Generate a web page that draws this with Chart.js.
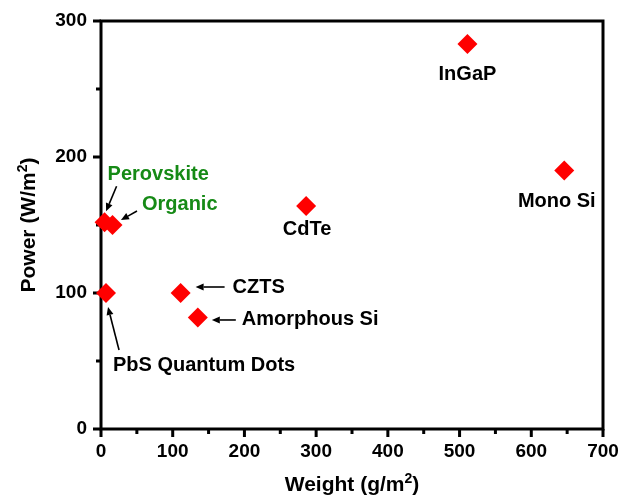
<!DOCTYPE html>
<html>
<head>
<meta charset="utf-8">
<script src="https://cdn.jsdelivr.net/npm/chart.js@4/dist/chart.umd.min.js"></script>
<style>
  html, body { margin: 0; padding: 0; background: #fff; }
  #wrap { width: 624px; height: 498px; }
</style>
</head>
<body>
<div id="wrap"><canvas id="chart" width="624" height="498"></canvas></div>
<script>
// values
const names = ['Perovskite', 'Organic', 'PbS Quantum Dots', 'CZTS', 'Amorphous Si', 'CdTe', 'InGaP', 'Mono Si'];
const weights = [5, 16, 7, 111, 135, 286, 511, 646];   // g/m2
const powers = [152, 150, 100, 100, 82, 164, 283, 190]; // W/m2
const xMajor = [0, 100, 200, 300, 400, 500, 600, 700];
const yMajor = [0, 100, 200, 300];
const xTitle = ['Weight (g/m', '2', ')'];
const yTitle = ['Power (W/m', '2', ')'];

const FONT = '"Liberation Sans", Arial, Helvetica, sans-serif';
const GREEN = '#168a16';

// label placement, in pixels relative to the marker
const notes = {
    'Perovskite':       { dx: 3,    dy: -48, align: 'left',   color: GREEN, arrow: [12, -36, 1.5, -11] },
    'Organic':          { dx: 29.5, dy: -21, align: 'left',   color: GREEN, arrow: [24.5, -14, 8.5, -5] },
    'PbS Quantum Dots': { dx: 7,    dy: 72,  align: 'left',   arrow: [13, 57, 2, 14] },
    'CZTS':             { dx: 52,   dy: -6,  align: 'left',   arrow: [44, -6, 15, -6] },
    'Amorphous Si':     { dx: 44,   dy: 2.5, align: 'left',   arrow: [38, 2.5, 14, 2.5] },
    'CdTe':             { dx: 1,    dy: 24,  align: 'center' },
    'InGaP':            { dx: 0,    dy: 30,  align: 'center' },
    'Mono Si':          { dx: -7.5, dy: 31,  align: 'center' }
};

function drawArrow(ctx, x1, y1, x2, y2) {
    const ang = Math.atan2(y2 - y1, x2 - x1);
    const head = 8, half = 3.5;
    const bx = x2 - Math.cos(ang) * head;
    const by = y2 - Math.sin(ang) * head;
    ctx.beginPath();
    ctx.moveTo(x1, y1);
    ctx.lineTo(bx, by);
    ctx.lineWidth = 1.6;
    ctx.strokeStyle = '#000';
    ctx.stroke();
    ctx.beginPath();
    ctx.moveTo(x2, y2);
    ctx.lineTo(bx - Math.sin(ang) * half, by + Math.cos(ang) * half);
    ctx.lineTo(bx + Math.sin(ang) * half, by - Math.cos(ang) * half);
    ctx.closePath();
    ctx.fillStyle = '#000';
    ctx.fill();
}

// title with a real superscript, centred on (cx, cy) in the current transform
function drawSupTitle(ctx, parts, cx, cy) {
    const big = 'bold 21px ' + FONT, small = 'bold 14px ' + FONT;
    ctx.font = big; const w0 = ctx.measureText(parts[0]).width;
    const w2 = ctx.measureText(parts[2]).width;
    ctx.font = small; const w1 = ctx.measureText(parts[1]).width;
    let x = cx - (w0 + w1 + w2) / 2;
    ctx.textAlign = 'left';
    ctx.textBaseline = 'alphabetic';
    ctx.fillStyle = '#000';
    ctx.font = big; ctx.fillText(parts[0], x, cy); x += w0;
    ctx.font = small; ctx.fillText(parts[1], x, cy - 8); x += w1;
    ctx.font = big; ctx.fillText(parts[2], x, cy);
}

// frame, major/minor tick marks, labels and titles
const framePlugin = {
    id: 'frame',
    beforeDatasetsDraw(chart) {
        const { ctx, chartArea: a, scales: { x, y } } = chart;
        ctx.save();
        ctx.strokeStyle = '#000';
        ctx.lineWidth = 3;
        ctx.lineCap = 'square';
        ctx.strokeRect(a.left, a.top, a.right - a.left, a.bottom - a.top);
        ctx.lineCap = 'butt';
        ctx.beginPath();
        xMajor.forEach((v, i) => {
            const px = x.getPixelForValue(v);
            ctx.moveTo(px, a.bottom); ctx.lineTo(px, a.bottom + 8);
            if (i < xMajor.length - 1) {
                const mx = x.getPixelForValue(v + 50);
                ctx.moveTo(mx, a.bottom); ctx.lineTo(mx, a.bottom + 5);
            }
        });
        yMajor.forEach((v, i) => {
            const py = y.getPixelForValue(v);
            ctx.moveTo(a.left, py); ctx.lineTo(a.left - 8, py);
            if (i < yMajor.length - 1) {
                const my = y.getPixelForValue(v + 50);
                ctx.moveTo(a.left, my); ctx.lineTo(a.left - 5, my);
            }
        });
        ctx.stroke();

        // axis titles
        drawSupTitle(ctx, xTitle, (a.left + a.right) / 2, 491);
        ctx.translate(35, (a.top + a.bottom) / 2);
        ctx.rotate(-Math.PI / 2);
        drawSupTitle(ctx, yTitle, 0, 0);
        ctx.restore();
    },
    afterDatasetsDraw(chart) {
        const { ctx, scales: { x, y } } = chart;
        ctx.save();
        ctx.font = 'bold 20px ' + FONT;
        ctx.textBaseline = 'middle';
        names.forEach((name, i) => {
            const n = notes[name];
            const px = x.getPixelForValue(weights[i]);
            const py = y.getPixelForValue(powers[i]);
            ctx.fillStyle = n.color || '#000';
            ctx.textAlign = n.align;
            ctx.fillText(name, px + n.dx, py + n.dy);
            if (n.arrow) {
                const [ax1, ay1, ax2, ay2] = n.arrow;
                drawArrow(ctx, px + ax1, py + ay1, px + ax2, py + ay2);
            }
        });
        ctx.restore();
    }
};

const tickFont = { family: FONT, size: 19, weight: 'bold' };

new Chart(document.getElementById('chart'), {
    type: 'scatter',
    data: {
        datasets: [{
            data: weights.map((w, i) => ({ x: w, y: powers[i] })),
            pointStyle: 'rectRot',
            pointRadius: 10,
            pointHoverRadius: 10,
            pointBorderWidth: 0,
            backgroundColor: '#ff0000',
            borderColor: '#ff0000',
            clip: false
        }]
    },
    options: {
        responsive: false,
        animation: false,
        devicePixelRatio: 1,
        layout: { padding: { top: 21, right: 21, left: 0, bottom: 0 } },
        plugins: { legend: { display: false }, tooltip: { enabled: false } },
        scales: {
            x: {
                type: 'linear',
                min: 0, max: 700,
                afterBuildTicks: s => { s.ticks = xMajor.map(v => ({ value: v })); },
                afterFit: s => { s.height = 69; s.paddingLeft = 0; s.paddingRight = 0; },
                grid: { display: false, drawTicks: false },
                border: { display: false },
                ticks: { color: '#000', font: tickFont, padding: 11, maxRotation: 0 }
            },
            y: {
                type: 'linear',
                min: 0, max: 300,
                afterBuildTicks: s => { s.ticks = yMajor.map(v => ({ value: v })); },
                afterFit: s => { s.width = 101; s.paddingTop = 0; s.paddingBottom = 0; },
                grid: { display: false, drawTicks: false },
                border: { display: false },
                ticks: { color: '#000', font: tickFont, padding: 14 }
            }
        }
    },
    plugins: [framePlugin]
});
</script>
</body>
</html>
